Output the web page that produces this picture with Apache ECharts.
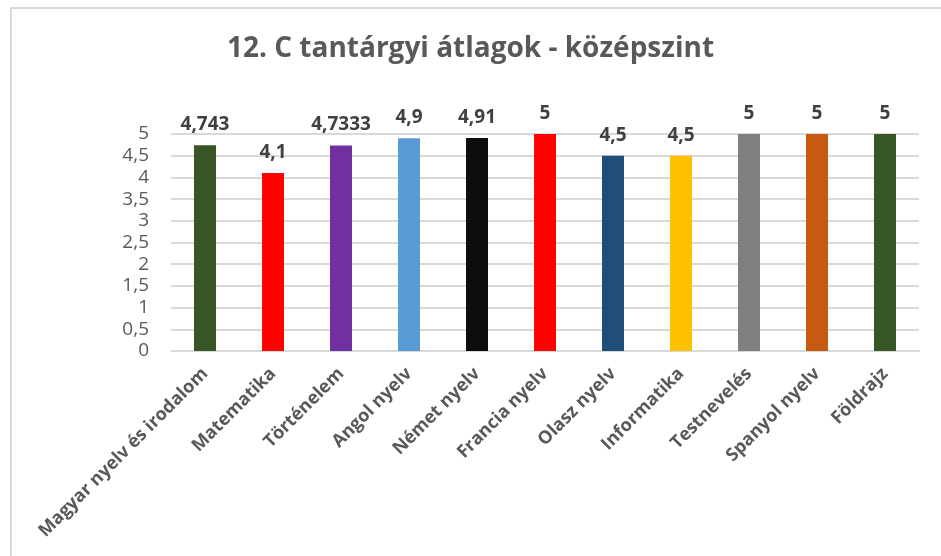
<!DOCTYPE html>
<html>
<head>
<meta charset="utf-8">
<script src="https://cdn.jsdelivr.net/npm/echarts@6/dist/echarts.min.js"></script>
<style>
  html, body { margin: 0; padding: 0; background: #fff; }
  #wrap { position: relative; width: 941px; height: 556px; overflow: hidden; }
  #frame { position: absolute; left: 10px; top: 7px; width: 1000px; height: 600px;
           border-top: 2px solid #d9d9d9; border-left: 2px solid #d9d9d9; }
  #main { position: absolute; left: 0; top: 0; width: 941px; height: 556px; }
</style>
</head>
<body>
<div id="wrap">
  <div id="frame"></div>
  <div id="main"></div>
</div>
<script>
// tantárgyak és átlagok
let subjects = ['Magyar nyelv és irodalom', 'Matematika', 'Történelem', 'Angol nyelv', 'Német nyelv',
  'Francia nyelv', 'Olasz nyelv', 'Informatika', 'Testnevelés', 'Spanyol nyelv', 'Földrajz'];
let averages = [4.743, 4.1, 4.7333, 4.9, 4.91, 5, 4.5, 4.5, 5, 5, 5];
let barColors = ['#375623', '#ff0000', '#7030a0', '#5b9bd5', '#0d0d0d', '#ff0000',
  '#1f4e79', '#ffc000', '#7f7f7f', '#c55a11', '#375623'];

let comma = function (v) { return String(v).replace('.', ','); };

let chart = echarts.init(document.getElementById('main'));
let option = {
    animation: false,
    title: {
        text: '12. C tantárgyi átlagok - középszint',
        left: 'center',
        top: 30,
        textStyle: {
            fontFamily: 'Open Sans, sans-serif',
            fontSize: 28,
            fontWeight: 'bold',
            color: '#595959'
        }
    },
    grid: { left: 171, right: 22, top: 134, bottom: 205 },
    xAxis: {
        type: 'category',
        data: subjects,
        axisLine: { lineStyle: { color: '#d9d9d9', width: 2 } },
        axisTick: { show: false },
        axisLabel: {
            interval: 0,
            rotate: 45,
            margin: 20,
            fontFamily: 'Open Sans, sans-serif',
            fontWeight: 'bold',
            fontSize: 18,
            color: '#595959'
        }
    },
    yAxis: {
        type: 'value',
        min: 0,
        max: 5,
        interval: 0.5,
        axisLine: { show: false },
        axisTick: { show: false },
        splitLine: { lineStyle: { color: '#d9d9d9', width: 2 } },
        axisLabel: {
            margin: 22,
            fontFamily: 'Open Sans, sans-serif',
            fontSize: 19,
            color: '#595959',
            formatter: comma
        }
    },
    series: [{
        type: 'bar',
        barWidth: 22,
        data: averages.map(function (v, i) {
            return { value: v, itemStyle: { color: barColors[i] } };
        }),
        label: {
            show: true,
            position: 'top',
            distance: 11,
            fontFamily: 'Open Sans, sans-serif',
            fontWeight: 'bold',
            fontSize: 19,
            color: '#404040',
            formatter: function (p) { return comma(p.value); }
        }
    }]
};
chart.setOption(option);
</script>
</body>
</html>
